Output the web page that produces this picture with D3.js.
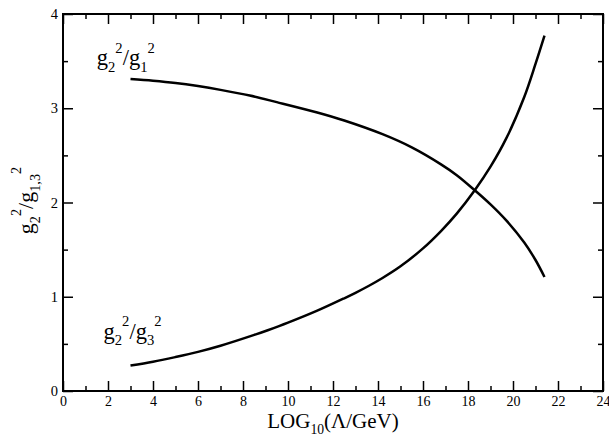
<!DOCTYPE html>
<html>
<head>
<meta charset="utf-8">
<script src="https://cdn.jsdelivr.net/npm/d3@7"></script>
<style>
  body { margin: 0; background: #fff; }
  svg { display: block; }
  .axis text { font-family: "Liberation Serif", "Times New Roman", "DejaVu Serif", serif; }
</style>
</head>
<body>
<svg id="chart"></svg>
<script>
// tick values
const xMajor = [0, 2, 4, 6, 8, 10, 12, 14, 16, 18, 20, 22, 24];
const xMinor = [1, 3, 5, 7, 9, 11, 13, 15, 17, 19, 21, 23];
const yMajor = [0, 1, 2, 3, 4];
const yMinor = [0.5, 1.5, 2.5, 3.5];

// g2^2/g1^2 vs log10(Lambda/GeV)
const logL_21 = [3.0, 4, 5, 6, 7, 8.3, 9.5, 11.3, 12.5, 14.2, 15.5, 16.8, 17.5, 18.3, 19.0, 19.7, 20.5, 21.0, 21.4];
const ratio_21 = [3.31, 3.292, 3.268, 3.235, 3.195, 3.135, 3.065, 2.955, 2.87, 2.725, 2.585, 2.405, 2.29, 2.13, 1.98, 1.81, 1.575, 1.39, 1.21];

// g2^2/g3^2 vs log10(Lambda/GeV)
const logL_23 = [3.0, 4, 5, 6, 7, 8.5, 9.1, 10, 11.3, 12.5, 13.0, 13.6, 14.2, 15, 16, 16.8, 17.5, 18.3, 19.0, 19.7, 20.5, 21.0, 21.4];
const ratio_23 = [0.27, 0.31, 0.36, 0.415, 0.48, 0.595, 0.645, 0.725, 0.852, 0.984, 1.042, 1.117, 1.199, 1.323, 1.513, 1.697, 1.882, 2.13, 2.38, 2.68, 3.12, 3.47, 3.77];

const font = '"Liberation Serif", "Times New Roman", "DejaVu Serif", serif';

const margin = { top: 14, right: 6, bottom: 48, left: 63 };
const W = 609, H = 439;
const w = W - margin.left - margin.right;
const h = H - margin.top - margin.bottom;

const svg = d3.select("#chart")
    .attr("width", W)
    .attr("height", H);

const g = svg.append("g")
    .attr("transform", `translate(${margin.left},${margin.top})`);

const xScale = d3.scaleLinear().domain([0, 24]).range([0, w]);
const yScale = d3.scaleLinear().domain([0, 4]).range([h, 0]);

// bottom axis with labels, ticks pointing inward
g.append("g")
    .attr("class", "axis")
    .attr("transform", `translate(0,${h})`)
    .call(d3.axisBottom(xScale).tickValues(xMajor).tickSize(-10).tickSizeOuter(0).tickPadding(5).tickFormat(d3.format("d")))
    .style("font-size", "14px");
g.append("g")
    .attr("class", "axis")
    .attr("transform", `translate(0,${h})`)
    .call(d3.axisBottom(xScale).tickValues(xMinor).tickSize(-5).tickSizeOuter(0).tickFormat(""));

// top axis
g.append("g")
    .attr("class", "axis")
    .call(d3.axisTop(xScale).tickValues(xMajor).tickSize(-10).tickSizeOuter(0).tickFormat(""));
g.append("g")
    .attr("class", "axis")
    .call(d3.axisTop(xScale).tickValues(xMinor).tickSize(-5).tickSizeOuter(0).tickFormat(""));

// left axis
g.append("g")
    .attr("class", "axis")
    .call(d3.axisLeft(yScale).tickValues(yMajor).tickSize(-10).tickSizeOuter(0).tickPadding(5).tickFormat(d3.format("d")))
    .style("font-size", "14.5px");
g.append("g")
    .attr("class", "axis")
    .call(d3.axisLeft(yScale).tickValues(yMinor).tickSize(-5).tickSizeOuter(0).tickFormat(""));

// right axis
g.append("g")
    .attr("class", "axis")
    .attr("transform", `translate(${w},0)`)
    .call(d3.axisRight(yScale).tickValues(yMajor).tickSize(-10).tickSizeOuter(0).tickFormat(""));
g.append("g")
    .attr("class", "axis")
    .attr("transform", `translate(${w},0)`)
    .call(d3.axisRight(yScale).tickValues(yMinor).tickSize(-5).tickSizeOuter(0).tickFormat(""));

g.selectAll(".axis .tick line").attr("stroke", "#000").attr("stroke-width", 1.5);
g.selectAll(".axis .domain").remove();
g.selectAll(".axis text").attr("fill", "#000");

// frame
g.append("rect")
    .attr("x", 0)
    .attr("y", 0)
    .attr("width", w)
    .attr("height", h)
    .attr("fill", "none")
    .attr("stroke", "#000")
    .attr("stroke-width", 2);

// curves
const line = d3.line()
    .x(d => xScale(d[0]))
    .y(d => yScale(d[1]))
    .curve(d3.curveCatmullRom.alpha(0.5));

[[logL_21, ratio_21], [logL_23, ratio_23]].forEach(([xs, ys]) => {
    g.append("path")
        .datum(xs.map((x, i) => [x, ys[i]]))
        .attr("d", line)
        .attr("fill", "none")
        .attr("stroke", "#000")
        .attr("stroke-width", 2.5);
});

// text with sub/superscripts (grace style: sub then sup, side by side)
function richText(sel, parts, size) {
    let off = 0;
    parts.forEach(p => {
        const target = p[1] === "sub" ? size * 0.3 : p[1] === "sup" ? -size * 0.55 : 0;
        sel.append("tspan")
            .attr("dy", target - off)
            .style("font-size", (p[1] ? size * 0.65 : size) + "px")
            .text(p[0]);
        off = target;
    });
    return sel;
}

// curve labels
richText(g.append("text")
    .attr("x", xScale(1.5))
    .attr("y", yScale(3.46))
    .style("font-family", font), [["g", ""], ["2", "sub"], ["2", "sup"], ["/g", ""], ["1", "sub"], ["2", "sup"]], 22.5);

richText(g.append("text")
    .attr("x", xScale(1.8))
    .attr("y", yScale(0.555))
    .style("font-family", font), [["g", ""], ["2", "sub"], ["2", "sup"], ["/g", ""], ["3", "sub"], ["2", "sup"]], 22.5);

// axis titles
richText(g.append("text")
    .attr("x", w / 2)
    .attr("y", h + 37)
    .attr("text-anchor", "middle")
    .style("font-family", font), [["LOG", ""], ["10", "sub"], ["(Λ/GeV)", ""]], 21);

richText(g.append("text")
    .attr("transform", `translate(${-30},${h / 2 - 2}) rotate(-90)`)
    .attr("text-anchor", "middle")
    .style("font-family", font), [["g", ""], ["2", "sub"], ["2", "sup"], ["/g", ""], ["1,3", "sub"], ["2", "sup"]], 22);
</script>
</body>
</html>
